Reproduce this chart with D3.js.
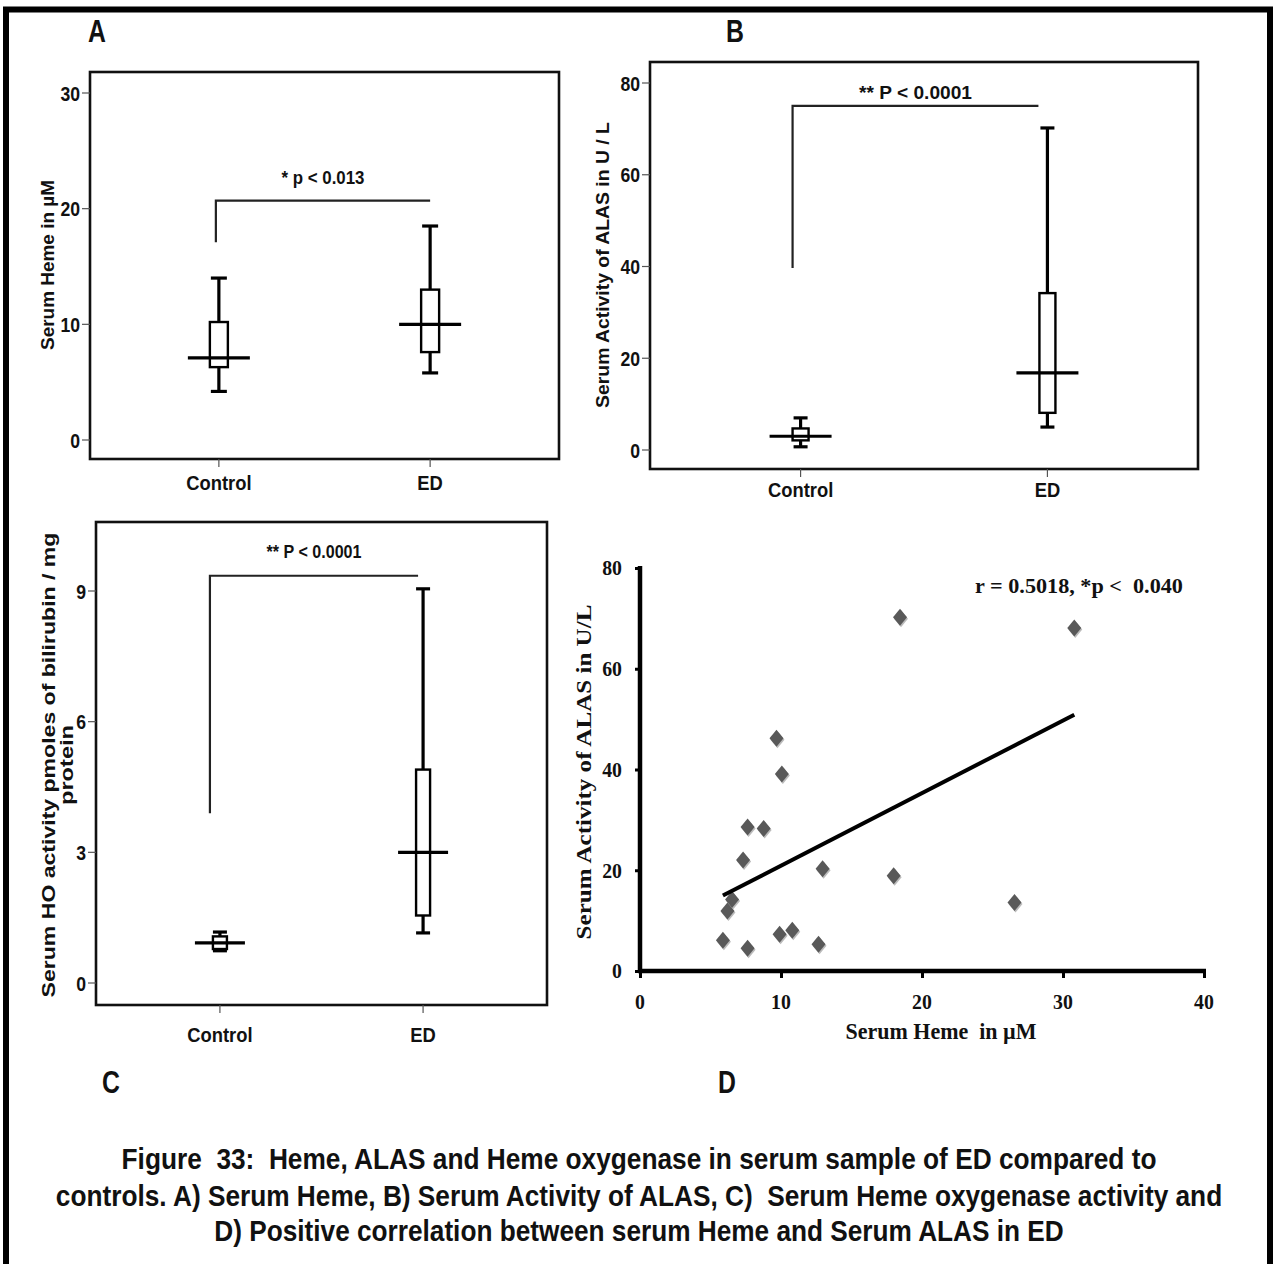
<!DOCTYPE html>
<html>
<head>
<meta charset="utf-8">
<script src="https://cdn.jsdelivr.net/npm/d3@7"></script>
<style>
  body { margin: 0; background: #fff; }
  svg { display: block; }
  text { white-space: pre; }
</style>
</head>
<body>
<svg id="fig"></svg>
<script>
// categories of the three box plots
const groups = ["Control", "ED"];

// box plot values: [lower whisker, Q1, median, Q3, upper whisker]
const hemeStats = [[4.2, 6.3, 7.1, 10.2, 14.0], [5.8, 7.6, 10.0, 13.0, 18.5]];
const alasStats = [[0.7, 2.1, 3.0, 4.7, 7.0], [5.0, 8.1, 16.8, 34.2, 70.2]];
const hoStats   = [[0.74, 0.78, 0.92, 1.07, 1.17], [1.15, 1.55, 3.0, 4.9, 9.05]];

const hemeTicks = [0, 10, 20, 30];
const alasTicks = [0, 20, 40, 60, 80];
const hoTicks   = [0, 3, 6, 9];

// significance brackets: [start on control side, height of bar]
const hemeBracket = [17.1, 20.7];
const alasBracket = [39.7, 75.0];
const hoBracket   = [3.9, 9.35];

// panel D: serum heme (x) vs serum ALAS (y) in ED
const scatterHeme = [18.44, 30.8, 9.68, 10.06, 7.63, 8.77, 7.31, 12.95, 17.99, 26.56, 6.53, 6.2, 5.88, 7.63, 9.9, 10.8, 12.66];
const scatterAlas = [70.2, 68.1, 46.2, 39.1, 28.6, 28.3, 22.05, 20.3, 18.9, 13.6, 14.2, 11.9, 6.1, 4.5, 7.3, 8.1, 5.3];
const scatterXTicks = [0, 10, 20, 30, 40];
const scatterYTicks = [0, 20, 40, 60, 80];

const captionLines = [
  "Figure  33:  Heme, ALAS and Heme oxygenase in serum sample of ED compared to",
  "controls. A) Serum Heme, B) Serum Activity of ALAS, C)  Serum Heme oxygenase activity and",
  "D) Positive correlation between serum Heme and Serum ALAS in ED"
];

const W = 1278, H = 1264;
const SANS = "'Liberation Sans', Arial, sans-serif";
const SERIF = "'Liberation Serif', 'Times New Roman', serif";

const svg = d3.select("#fig").attr("width", W).attr("height", H);

// text helper: sx squeezes glyphs horizontally, len squeezes the text to a given width
function label(g, x, y, str, o = {}) {
  const t = g.append("text")
      .attr("text-anchor", o.anchor || "middle")
      .attr("dominant-baseline", "central")
      .style("font-family", o.font || SANS)
      .style("font-weight", "bold")
      .style("font-size", (o.size || 16) + "px")
      .attr("fill", o.fill || "#111")
      .text(str);
  let sx = o.sx || 1;
  if (o.len) sx = o.len / t.node().getComputedTextLength();
  t.attr("transform", `translate(${x},${y}) rotate(${o.rot || 0}) scale(${sx},1)`);
  return t;
}

// outer frame
svg.append("rect")
    .attr("x", 6).attr("y", 9.5)
    .attr("width", 1264).attr("height", 1270)
    .attr("fill", "none").attr("stroke", "#000").attr("stroke-width", 6);

function boxPanel(cfg) {
  const g = svg.append("g");
  const f = cfg.frame;
  const x = d3.scalePoint().domain(groups).range([f.x0, f.x1]).padding(0.61);
  const y = d3.scaleLinear().domain(cfg.domain).range(cfg.yRange);

  g.append("rect")
      .attr("x", f.x0).attr("y", f.y0)
      .attr("width", f.x1 - f.x0).attr("height", f.y1 - f.y0)
      .attr("fill", "none").attr("stroke", "#111").attr("stroke-width", 2.6);

  // y ticks
  g.selectAll(".yt").data(cfg.ticks).enter().append("line")
      .attr("x1", f.x0 - 8).attr("x2", f.x0)
      .attr("y1", d => y(d)).attr("y2", d => y(d))
      .attr("stroke", "#555").attr("stroke-width", 1.2);
  cfg.ticks.forEach(d => label(g, f.x0 - 10, y(d), d, { anchor: "end", size: 21, sx: 0.84 }));

  // x ticks
  groups.forEach(c => {
    g.append("line")
        .attr("x1", x(c)).attr("x2", x(c))
        .attr("y1", f.y1).attr("y2", f.y1 + 8)
        .attr("stroke", "#555").attr("stroke-width", 1.2);
    label(g, x(c), cfg.catY, c, { size: 20, sx: 0.92 });
  });

  // boxes
  cfg.stats.forEach((s, i) => {
    const cx = x(groups[i]);
    const b = g.append("g").attr("stroke", "#000").attr("fill", "none");
    b.append("line").attr("x1", cx).attr("x2", cx).attr("y1", y(s[0])).attr("y2", y(s[1])).attr("stroke-width", 3.2);
    b.append("line").attr("x1", cx).attr("x2", cx).attr("y1", y(s[3])).attr("y2", y(s[4])).attr("stroke-width", 3.2);
    [s[0], s[4]].forEach(v => b.append("line")
        .attr("x1", cx - cfg.capHalf).attr("x2", cx + cfg.capHalf)
        .attr("y1", y(v)).attr("y2", y(v)).attr("stroke-width", 3.2));
    b.append("rect")
        .attr("x", cx - cfg.boxHalf).attr("y", y(s[3]))
        .attr("width", cfg.boxHalf * 2).attr("height", y(s[1]) - y(s[3]))
        .attr("fill", "#fff").attr("stroke-width", 2.4);
    b.append("line")
        .attr("x1", cx - cfg.medHalf).attr("x2", cx + cfg.medHalf)
        .attr("y1", y(s[2])).attr("y2", y(s[2])).attr("stroke-width", 3.2);
  });

  // significance bracket
  const bx0 = x(groups[0]) + cfg.shift[0], bx1 = x(groups[1]) + cfg.shift[1];
  g.append("path")
      .attr("d", `M${bx0},${y(cfg.bracket[0])}V${y(cfg.bracket[1])}H${bx1}`)
      .attr("fill", "none").attr("stroke", "#222").attr("stroke-width", 2.2);
  label(g, (bx0 + bx1) / 2, cfg.pY, cfg.pText, { size: 18, len: cfg.pLen });

  // axis title
  cfg.yTitle.forEach((t, i) =>
    label(g, cfg.yTitleX[i], cfg.yTitleY, t, { rot: -90, size: 18, len: cfg.yTitleLen[i] }));

  label(svg, cfg.letter[1], cfg.letter[2], cfg.letter[0], { size: 31, sx: 0.8 });
}

boxPanel({
  frame: { x0: 90, x1: 559, y0: 72, y1: 459 },
  domain: [0, 30], yRange: [440, 93], ticks: hemeTicks, stats: hemeStats,
  medHalf: 31, boxHalf: 9, capHalf: 8, catY: 483,
  bracket: hemeBracket, shift: [-3, 0], pText: "* p < 0.013", pY: 178, pLen: 83,
  yTitle: ["Serum Heme in µM"], yTitleX: [48], yTitleY: 265, yTitleLen: [170],
  letter: ["A", 97, 32]
});

boxPanel({
  frame: { x0: 650, x1: 1198, y0: 62, y1: 469 },
  domain: [0, 80], yRange: [450, 83], ticks: alasTicks, stats: alasStats,
  medHalf: 31, boxHalf: 8, capHalf: 7, catY: 490,
  bracket: alasBracket, shift: [-8, -9], pText: "** P < 0.0001", pY: 93, pLen: 113,
  yTitle: ["Serum Activity of ALAS in U / L"], yTitleX: [603], yTitleY: 265, yTitleLen: [286],
  letter: ["B", 735, 32]
});

boxPanel({
  frame: { x0: 96, x1: 547, y0: 522, y1: 1005 },
  domain: [0, 9], yRange: [983, 591], ticks: hoTicks, stats: hoStats,
  medHalf: 25, boxHalf: 7, capHalf: 7, catY: 1035,
  bracket: hoBracket, shift: [-10, -5], pText: "** P < 0.0001", pY: 552, pLen: 95,
  yTitle: ["Serum HO activity pmoles of bilirubin / mg", "protein"], yTitleX: [48, 67], yTitleY: 765,
  yTitleLen: [465, 80],
  letter: ["C", 111, 1083]
});

// ---- panel D: scatter with least squares line ----
const gd = svg.append("g");
const xs = d3.scaleLinear().domain([0, 40]).range([640, 1204]);
const ys = d3.scaleLinear().domain([0, 80]).range([971, 568]);

const pts = scatterHeme.map((v, i) => [v, scatterAlas[i]]);
const mx = d3.mean(scatterHeme), my = d3.mean(scatterAlas);
const slope = d3.sum(pts, p => (p[0] - mx) * (p[1] - my)) / d3.sum(pts, p => (p[0] - mx) ** 2);
const fit = v => my + slope * (v - mx);
const [xmin, xmax] = d3.extent(scatterHeme);

const diamond = (cx, cy) => `M${cx},${cy - 8.5}L${cx + 7},${cy}L${cx},${cy + 8.5}L${cx - 7},${cy}Z`;
gd.selectAll(".shadow").data(pts).enter().append("path")
    .attr("d", p => diamond(xs(p[0]) + 1, ys(p[1]) + 1.5))
    .attr("fill", "#bbb");
gd.selectAll(".pt").data(pts).enter().append("path")
    .attr("d", p => diamond(xs(p[0]), ys(p[1])))
    .attr("fill", "#595959");

gd.append("line")
    .attr("x1", xs(xmin)).attr("y1", ys(fit(xmin)))
    .attr("x2", xs(xmax)).attr("y2", ys(fit(xmax)))
    .attr("stroke", "#000").attr("stroke-width", 4);

const xAx = gd.append("g").attr("transform", "translate(0,971)")
    .call(d3.axisBottom(xs).tickValues(scatterXTicks).tickSize(7).tickSizeOuter(0).tickFormat(""));
const yAx = gd.append("g").attr("transform", "translate(640,0)")
    .call(d3.axisLeft(ys).tickValues(scatterYTicks).tickSize(5).tickSizeOuter(0).tickFormat(""));
[xAx, yAx].forEach(a => {
  a.select(".domain").attr("stroke", "#000").attr("stroke-width", 4.5);
  a.selectAll(".tick line").attr("stroke", "#000").attr("stroke-width", 3);
});
xAx.select(".domain").attr("d", "M638,0H1206");
yAx.select(".domain").attr("d", "M0,566V973");

scatterXTicks.forEach(d => label(gd, xs(d), 1002, d, { font: SERIF, size: 22, sx: 0.9 }));
scatterYTicks.forEach(d => label(gd, 622, ys(d), d, { font: SERIF, size: 22, sx: 0.9, anchor: "end" }));

label(gd, 941, 1031, "Serum Heme  in µM", { font: SERIF, size: 23, len: 191 });
label(gd, 584, 772, "Serum Activity of ALAS in U/L", { font: SERIF, size: 21, rot: -90, len: 335 });
label(gd, 1079, 586, "r = 0.5018, *p <  0.040", { font: SERIF, size: 22, len: 208 });

label(svg, 727, 1083, "D", { size: 31, sx: 0.8 });

// caption
const capY = [1158, 1195, 1230], capLen = [1035, 1167, 850];
captionLines.forEach((t, i) => label(svg, 639, capY[i], t, { size: 30, len: capLen[i] }));
</script>
</body>
</html>
